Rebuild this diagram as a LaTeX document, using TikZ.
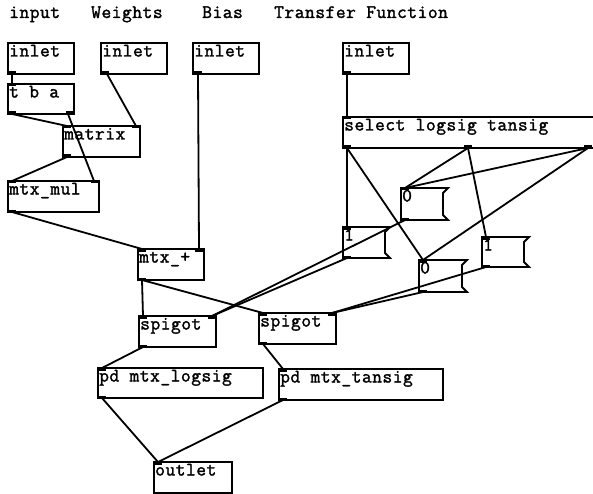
\documentclass[tikz,border=0pt]{standalone}
\usepackage{fontspec}
\newfontfamily\pdfont{Latin Modern Mono}[LetterSpace=2.6,FakeBold=1.6]
\usetikzlibrary{calc}
\tikzset{
  pdbox/.style={draw, line width=1.8pt, inner sep=0pt, outer sep=0pt, anchor=north west},
  pdghost/.style={inner sep=0pt, outer sep=0pt, anchor=north west},
  pdtxt/.style={font=\pdfont\fontsize{19}{19}\selectfont, inner sep=0pt, anchor=base west},
  conn/.style={line width=1.8pt},
  flag/.style={line width=1.8pt, line join=miter},
  port/.style={fill=black}
}
% object box: name, x, y, w, h, text
\newcommand\pdobj[6]{%
  \node[pdbox, minimum width=#4, minimum height=#5] (#1) at (#2,#3) {};
  \node[pdtxt] (#1-t) at ($(#1.north west)+(1,13.5)$) {#6};
}
% message box: name, x, y, w, h, text
\newcommand\pdmsg[6]{%
  \node[pdghost, minimum width=#4, minimum height=#5] (#1) at (#2,#3) {};
  \draw[flag] (#1.north west) -- (#1.north east) -- ++(-5,5)
     -- ($(#1.south east)+(-5,-5)$) -- (#1.south east) -- (#1.south west) -- cycle;
  \node[pdtxt] (#1-t) at ($(#1.north west)+(1,13.5)$) {#6};
}
\newcommand\pin[2]{\fill[port] ($(#1.north west)+(#2,0)+(-4,0)$) rectangle ++(8,2.5);}
\newcommand\pout[2]{\fill[port] ($(#1.south west)+(#2,0)+(-4,0)$) rectangle ++(8,-2.5);}
\newcommand\pdc[4]{\draw[conn] ($(#1.south west)+(#2,0)$) -- ($(#3.north west)+(#4,0)$);}
\begin{document}
\begin{tikzpicture}[x=1pt,y=-1pt]
\useasboundingbox[fill=white] (0,0) rectangle (593,494);

% titles
\node[pdtxt] (h1) at (9,18) {input};
\node[pdtxt] (h2) at (91,18) {Weights};
\node[pdtxt] (h3) at (202,18) {Bias};
\node[pdtxt] (h4) at (274,18) {Transfer Function};

% objects
\pdobj{in1}{8}{43}{66}{31}{inlet}
\pdobj{in2}{101}{43}{66}{31}{inlet}
\pdobj{in3}{193}{43}{66}{31}{inlet}
\pdobj{in4}{343}{43}{66}{31}{inlet}
\pdobj{tba}{8}{84}{66}{30}{t b a}
\pdobj{mat}{63}{126}{77}{31}{matrix}
\pdobj{mul}{8}{181}{91}{31}{mtx\_mul}
\pdobj{add}{138}{249}{66}{31}{mtx\_+}
\pdobj{sp1}{139}{316}{77}{31}{spigot}
\pdobj{sp2}{259}{313}{77}{31}{spigot}
\pdobj{log}{98}{368}{165}{30}{pd mtx\_logsig}
\pdobj{tan}{279}{369}{164}{31}{pd mtx\_tansig}
\pdobj{out}{154}{462}{78}{31}{outlet}
\pdobj{sel}{343}{117}{253}{31}{select logsig tansig}

% message boxes
\pdmsg{m0t}{401}{188}{47}{32}{0}
\pdmsg{m1l}{343}{227}{47}{31}{1}
\pdmsg{m0b}{419}{260}{48}{32}{0}
\pdmsg{m1r}{482}{237}{47}{30}{1}

% ports
\pout{in1}{4} \pout{in2}{4} \pout{in3}{5} \pout{in4}{4}
\pin{tba}{4} \pout{tba}{4} \pout{tba}{62}
\pin{mat}{4} \pin{mat}{73} \pout{mat}{4}
\pin{mul}{4} \pin{mul}{87} \pout{mul}{4}
\pin{add}{4} \pin{add}{61} \pout{add}{4}
\pin{sp1}{4} \pin{sp1}{73} \pout{sp1}{4}
\pin{sp2}{4} \pin{sp2}{73} \pout{sp2}{4}
\pin{log}{4} \pout{log}{4}
\pin{tan}{4} \pout{tan}{4}
\pin{out}{4}
\pin{sel}{4} \pout{sel}{4} \pout{sel}{125} \pout{sel}{245}
\pin{m0t}{4} \pout{m0t}{4}
\pin{m1l}{4} \pout{m1l}{4}
\pin{m0b}{4} \pout{m0b}{4}
\pin{m1r}{4} \pout{m1r}{4}

% connections
\pdc{in1}{4}{tba}{4}
\pdc{in2}{6}{mat}{73}
\pdc{tba}{4}{mat}{4}
\pdc{tba}{60}{mul}{86}
\pdc{mat}{4}{mul}{4}
\pdc{in3}{5}{add}{61}
\pdc{mul}{4}{add}{4}
\pdc{add}{4}{sp1}{4}
\pdc{add}{4}{sp2}{4}
\pdc{sp1}{4}{log}{4}
\pdc{sp2}{4}{tan}{4}
\pdc{log}{4}{out}{4}
\pdc{tan}{4}{out}{4}
\pdc{in4}{4}{sel}{4}
\pdc{sel}{4}{m1l}{4}
\pdc{sel}{4}{m0b}{4}
\pdc{sel}{125}{m0t}{4}
\pdc{sel}{125}{m1r}{4}
\pdc{sel}{245}{m0t}{4}
\pdc{sel}{245}{m0b}{4}
\pdc{m0t}{4}{sp1}{73}
\pdc{m1l}{4}{sp1}{73}
\pdc{m0b}{4}{sp2}{73}
\pdc{m1r}{4}{sp2}{73}
\end{tikzpicture}
\end{document}
